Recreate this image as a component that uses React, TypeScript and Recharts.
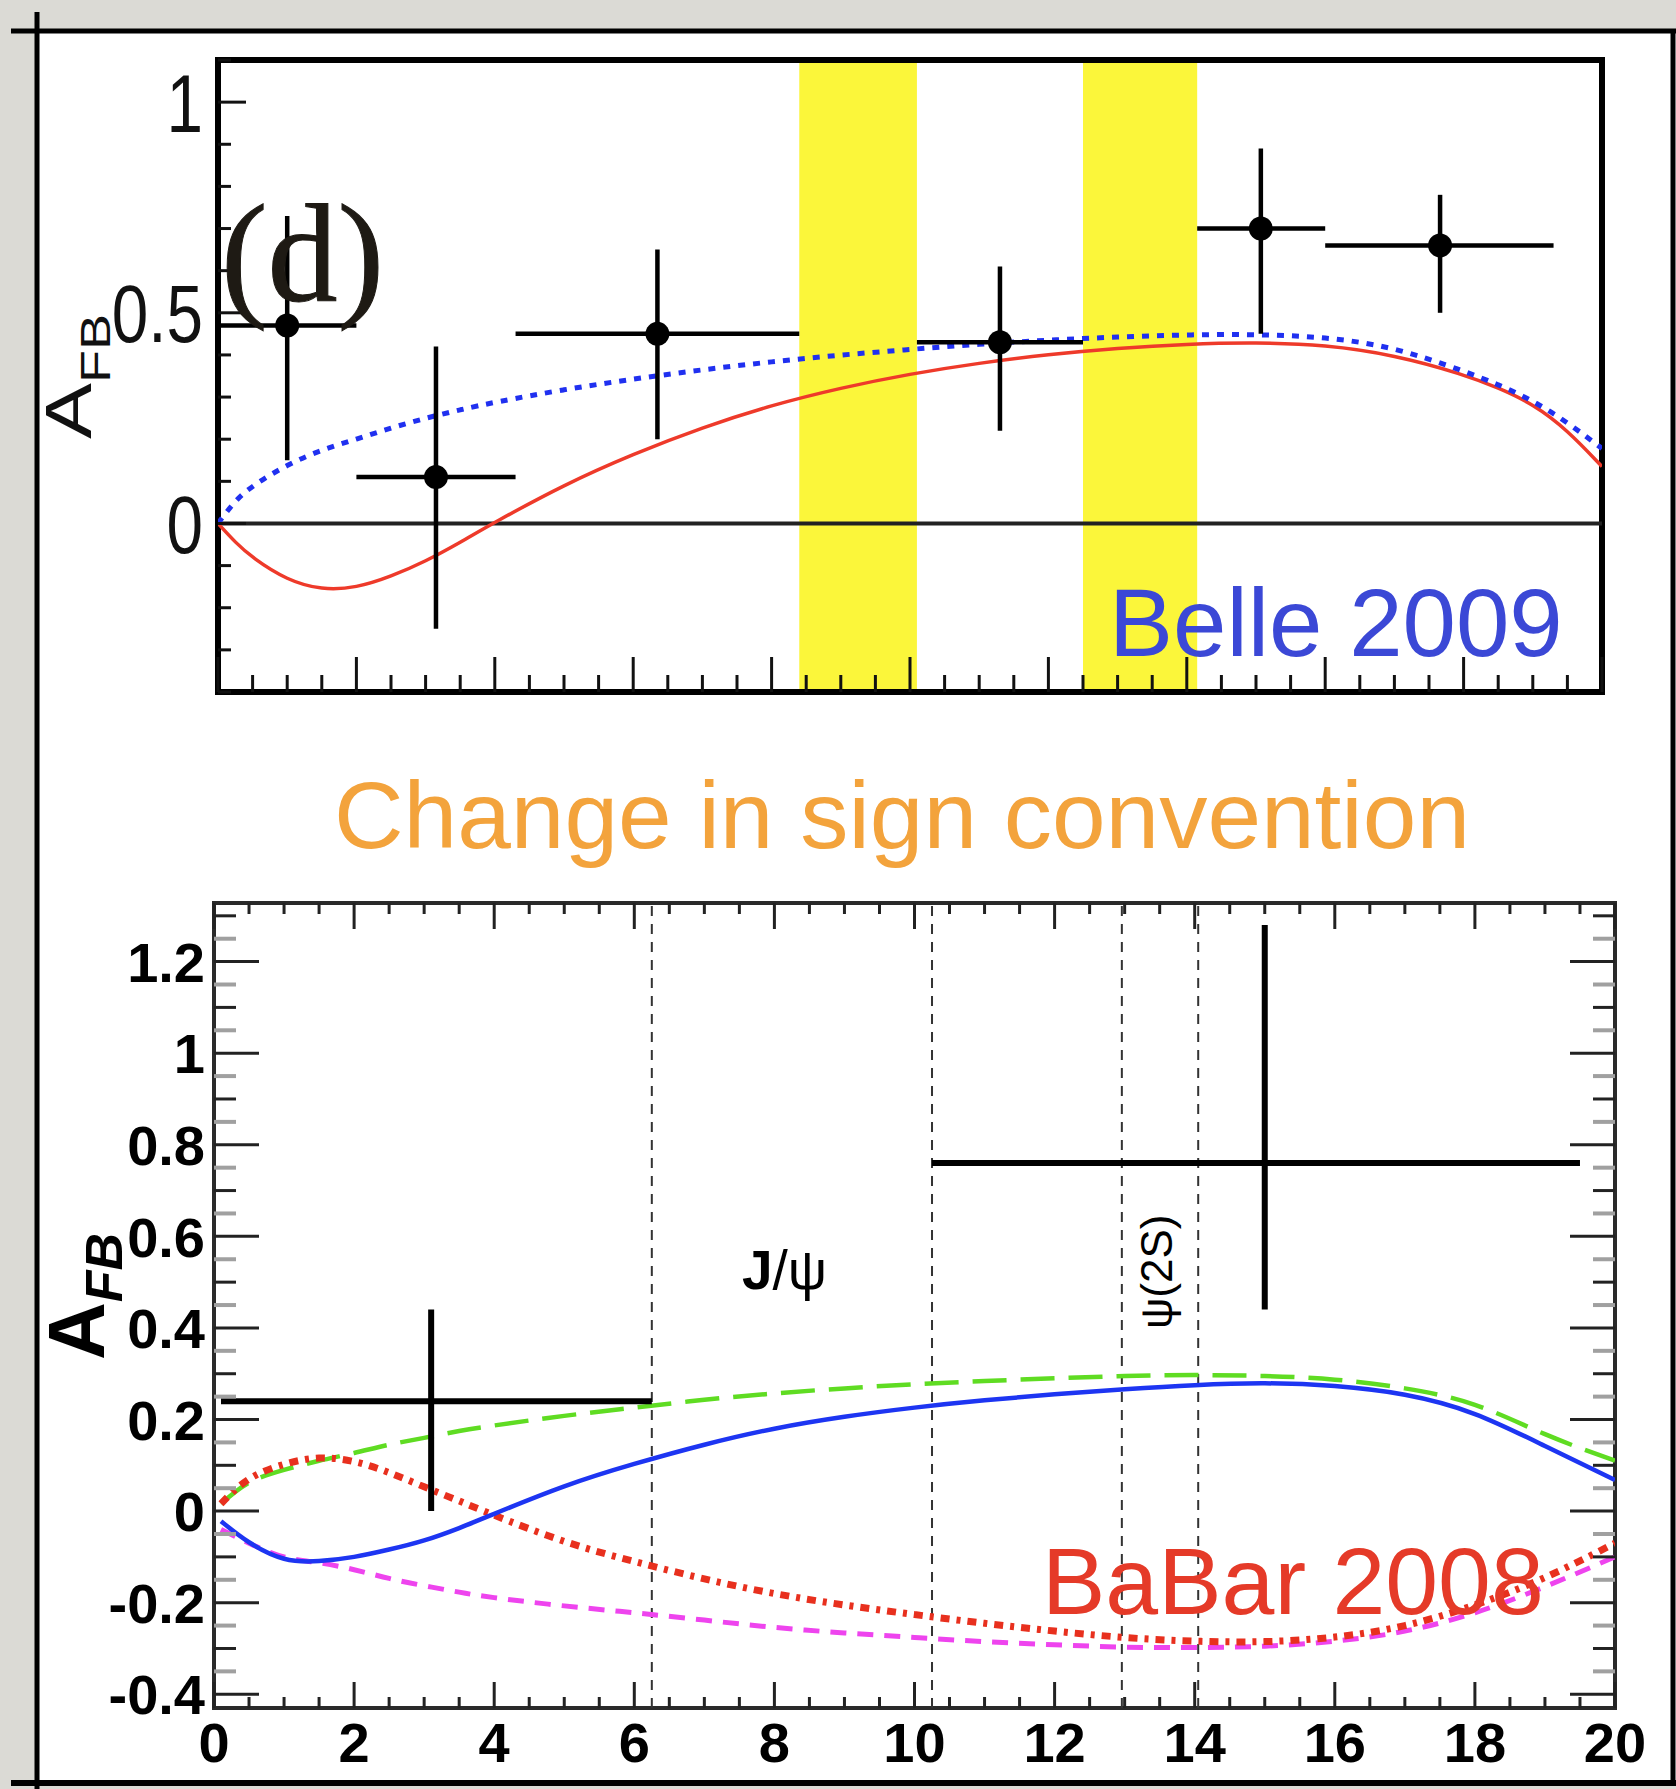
import React from "react";
import {
  ComposedChart,
  Line,
  Scatter,
  ErrorBar,
  XAxis,
  YAxis,
  ReferenceArea,
  ReferenceLine,
} from "recharts";

const W = 1676;
const H = 1789;
const SANS = '"Liberation Sans", Arial, Helvetica, sans-serif';
const SERIF = '"Liberation Serif", "Times New Roman", serif';

// Belle 2009 — binned A_FB vs q² (GeV²/c⁴)
const belleQ2 = [1.0, 3.15, 6.35, 11.3, 15.07, 17.66];
const belleBinLo = [0.0, 2.0, 4.3, 10.1, 14.15, 16.0];
const belleBinHi = [2.0, 4.3, 8.4, 12.5, 16.0, 19.3];
const belleAfb = [0.47, 0.11, 0.45, 0.43, 0.7, 0.66];
const belleErrUp = [0.26, 0.31, 0.2, 0.18, 0.19, 0.12];
const belleErrDown = [0.32, 0.36, 0.25, 0.21, 0.25, 0.16];

// charmonium veto windows
const belleVetoLo = [8.4, 12.5];
const belleVetoHi = [10.1, 14.15];

// theory curves (SM solid, flipped C7 dotted)
const belleCurveQ2 = [0, 0.25, 0.5, 1, 1.5, 2, 2.5, 3, 3.5, 4, 5, 6, 7, 8, 9, 10, 11, 12, 13, 14, 15, 16, 17, 18, 18.5, 19, 19.5, 20];
const belleSm = [0, -0.045, -0.082, -0.135, -0.158, -0.153, -0.126, -0.09, -0.045, 0.003, 0.092, 0.165, 0.228, 0.281, 0.322, 0.355, 0.381, 0.401, 0.416, 0.426, 0.43, 0.424, 0.4, 0.354, 0.322, 0.284, 0.222, 0.135];
const belleFlipC7 = [0, 0.055, 0.09, 0.14, 0.175, 0.2, 0.227, 0.25, 0.27, 0.288, 0.318, 0.343, 0.365, 0.384, 0.4, 0.413, 0.426, 0.435, 0.443, 0.448, 0.449, 0.443, 0.419, 0.362, 0.33, 0.292, 0.24, 0.178];

// BaBar 2008
const babarQ2 = [3.1, 15.0];
const babarBinLo = [0.1, 10.25];
const babarBinHi = [6.25, 19.5];
const babarAfb = [0.24, 0.76];
const babarErrUp = [0.2, 0.52];
const babarErrDown = [0.24, 0.32];
const babarVetoEdges = [6.25, 10.25, 12.96, 14.05];

// SM solid, flipped C7 long-dash, flipped C9C10 dash, all flipped dash-dot
const babarCurveQ2 = [0.1, 0.5, 1, 1.5, 2, 2.5, 3, 3.5, 4, 5, 6, 7, 8, 9, 10, 11, 12, 13, 14, 15, 16, 17, 18, 19, 20];
const babarSm = [-0.022, -0.068, -0.104, -0.109, -0.1, -0.084, -0.064, -0.037, -0.006, 0.054, 0.103, 0.145, 0.18, 0.206, 0.226, 0.242, 0.255, 0.266, 0.275, 0.279, 0.273, 0.254, 0.212, 0.142, 0.068];
const babarFlipC7 = [0.016, 0.062, 0.09, 0.11, 0.127, 0.145, 0.16, 0.175, 0.187, 0.208, 0.226, 0.243, 0.257, 0.268, 0.277, 0.284, 0.29, 0.295, 0.297, 0.295, 0.287, 0.268, 0.232, 0.168, 0.11];
const babarFlipC9C10 = [-0.04, -0.07, -0.1, -0.113, -0.128, -0.147, -0.163, -0.177, -0.189, -0.207, -0.222, -0.238, -0.254, -0.266, -0.276, -0.285, -0.292, -0.297, -0.298, -0.295, -0.284, -0.262, -0.222, -0.165, -0.1];
const babarFlipAll = [0.016, 0.07, 0.102, 0.116, 0.108, 0.084, 0.053, 0.022, -0.009, -0.066, -0.11, -0.148, -0.18, -0.205, -0.226, -0.245, -0.262, -0.276, -0.284, -0.285, -0.275, -0.25, -0.205, -0.145, -0.07];

// plot frames in page pixels
const TOP = { left: 218, right: 1602, top: 60, bottom: 692 };
const BOT = { left: 214, right: 1615, top: 903, bottom: 1708 };

const range = (a: number, b: number, step: number) => {
  const out: number[] = [];
  for (let v = a; v <= b + 1e-9; v += step) out.push(Math.round(v * 1000) / 1000);
  return out;
};
const isMult = (v: number, s: number) => Math.abs(v / s - Math.round(v / s)) < 1e-6;

const belleXTicks = range(0, 20, 0.5);
const belleYTicks = range(-0.4, 1.1, 0.1);
const babarXTicks = range(0, 20, 0.5);
const babarYTicks = range(-0.4, 1.3, 0.05);

const toSeries = (xs: number[], ys: number[]) => xs.map((x, i) => ({ x, y: ys[i] }));

const belleData = belleQ2.map((x, i) => ({
  x,
  y: belleAfb[i],
  ex: [x - belleBinLo[i], belleBinHi[i] - x],
  ey: [belleErrDown[i], belleErrUp[i]],
}));
const babarData = babarQ2.map((x, i) => ({
  x,
  y: babarAfb[i],
  ex: [x - babarBinLo[i], babarBinHi[i] - x],
  ey: [babarErrDown[i], babarErrUp[i]],
}));

function BelleXTick({ x, payload }: any) {
  const major = isMult(payload.value, 2);
  return (
    <line x1={x} x2={x} y1={TOP.bottom} y2={TOP.bottom - (major ? 35 : 17)} stroke="#111" strokeWidth={3} />
  );
}

function BelleYTick({ y, payload }: any) {
  const v = payload.value;
  const major = isMult(v, 0.5);
  return (
    <g>
      <line x1={TOP.left} x2={TOP.left + (major ? 28 : 13)} y1={y} y2={y} stroke="#111" strokeWidth={3} />
      {major && (
        <text
          transform={`translate(203 ${y}) scale(0.8 1)`}
          dy="0.36em"
          textAnchor="end"
          fontSize={82}
          fontFamily={SANS}
          fill="#111"
        >
          {String(v)}
        </text>
      )}
    </g>
  );
}

function BabarXTick({ x, payload }: any) {
  const v = payload.value;
  const major = isMult(v, 2);
  const len = major ? 26 : 11;
  return (
    <g>
      <line x1={x} x2={x} y1={BOT.bottom} y2={BOT.bottom - len} stroke="#222" strokeWidth={3} />
      <line x1={x} x2={x} y1={BOT.top} y2={BOT.top + len} stroke="#222" strokeWidth={3} />
      {major && (
        <text x={x} y={1762} textAnchor="middle" fontSize={56} fontWeight="bold" fontFamily={SANS} fill="#000">
          {String(v)}
        </text>
      )}
    </g>
  );
}

function BabarYTick({ y, payload }: any) {
  const v = payload.value;
  const major = isMult(v, 0.2);
  const dark = major || isMult(v, 0.1);
  const len = major ? 45 : 22;
  const color = dark ? "#222" : "#a0a0a0";
  const sw = dark ? 3 : 4;
  const label = v === 0 ? "0" : Number.isInteger(v) ? String(v) : v.toFixed(1);
  return (
    <g>
      <line x1={BOT.left} x2={BOT.left + len} y1={y} y2={y} stroke={color} strokeWidth={sw} />
      <line x1={BOT.right} x2={BOT.right - len} y1={y} y2={y} stroke={color} strokeWidth={sw} />
      {major && (
        <text x={205} y={y} dy="0.36em" textAnchor="end" fontSize={56} fontWeight="bold" fontFamily={SANS} fill="#000">
          {label}
        </text>
      )}
    </g>
  );
}

const noMarker = () => <g />;
const dotMarker = (p: any) => <circle cx={p.cx} cy={p.cy} r={12} fill="#000" />;

function BellePanel() {
  return (
    <ComposedChart width={W} height={760} margin={{ top: TOP.top, right: W - TOP.right, bottom: 760 - TOP.bottom - 30, left: TOP.left - 60 }}>
      <XAxis
        type="number"
        dataKey="x"
        domain={[0, 20]}
        ticks={belleXTicks}
        interval={0}
        allowDataOverflow
        axisLine={false}
        tickLine={false}
        tick={BelleXTick}
        height={30}
      />
      <YAxis
        type="number"
        domain={[-0.4, 1.1]}
        ticks={belleYTicks}
        interval={0}
        allowDataOverflow
        axisLine={false}
        tickLine={false}
        tick={BelleYTick}
        width={60}
      />
      {belleVetoLo.map((lo, i) => (
        <ReferenceArea key={i} x1={lo} x2={belleVetoHi[i]} y1={-0.4} y2={1.1} fill="#fbf63a" fillOpacity={1} stroke="none" />
      ))}
      <ReferenceLine y={0} stroke="#222" strokeWidth={4} />
      <Line
        data={toSeries(belleCurveQ2, belleSm)}
        dataKey="y"
        type="basis"
        stroke="#ee3a2a"
        strokeWidth={3.5}
        dot={false}
        isAnimationActive={false}
      />
      <Line
        data={toSeries(belleCurveQ2, belleFlipC7)}
        dataKey="y"
        type="basis"
        stroke="#2030f0"
        strokeWidth={5}
        strokeDasharray="7 8"
        dot={false}
        isAnimationActive={false}
      />
      <Scatter data={belleData} dataKey="y" shape={dotMarker} isAnimationActive={false}>
        <ErrorBar dataKey="ex" direction="x" width={0} stroke="#000" strokeWidth={4.5} isAnimationActive={false} />
        <ErrorBar dataKey="ey" direction="y" width={0} stroke="#000" strokeWidth={4.5} isAnimationActive={false} />
      </Scatter>
      <ReferenceArea x1={0} x2={20} y1={-0.4} y2={1.1} fill="none" stroke="#000" strokeWidth={6} />
    </ComposedChart>
  );
}

function BabarPanel() {
  return (
    <ComposedChart width={W} height={H} margin={{ top: BOT.top, right: W - BOT.right, bottom: H - BOT.bottom - 30, left: BOT.left - 60 }}>
      <XAxis
        type="number"
        dataKey="x"
        domain={[0, 20]}
        ticks={babarXTicks}
        interval={0}
        allowDataOverflow
        axisLine={false}
        tickLine={false}
        tick={BabarXTick}
        height={30}
      />
      <YAxis
        type="number"
        domain={[-0.43, 1.328]}
        ticks={babarYTicks}
        interval={0}
        allowDataOverflow
        axisLine={false}
        tickLine={false}
        tick={BabarYTick}
        width={60}
      />
      {babarVetoEdges.map((q) => (
        <ReferenceLine key={q} x={q} stroke="#333" strokeWidth={2} strokeDasharray="10 8" />
      ))}
      <Line
        data={toSeries(babarCurveQ2, babarFlipC7)}
        dataKey="y"
        type="natural"
        stroke="#5fdc22"
        strokeWidth={4.5}
        strokeDasharray="34 14"
        dot={false}
        isAnimationActive={false}
      />
      <Line
        data={toSeries(babarCurveQ2, babarFlipC9C10)}
        dataKey="y"
        type="natural"
        stroke="#ee44ee"
        strokeWidth={5}
        strokeDasharray="16 11"
        dot={false}
        isAnimationActive={false}
      />
      <Line
        data={toSeries(babarCurveQ2, babarFlipAll)}
        dataKey="y"
        type="natural"
        stroke="#e8301e"
        strokeWidth={7}
        strokeDasharray="9 7 4 7"
        dot={false}
        isAnimationActive={false}
      />
      <Line
        data={toSeries(babarCurveQ2, babarSm)}
        dataKey="y"
        type="natural"
        stroke="#1d35f2"
        strokeWidth={4.5}
        dot={false}
        isAnimationActive={false}
      />
      <Scatter data={babarData} dataKey="y" shape={noMarker} isAnimationActive={false}>
        <ErrorBar dataKey="ex" direction="x" width={0} stroke="#000" strokeWidth={6} isAnimationActive={false} />
        <ErrorBar dataKey="ey" direction="y" width={0} stroke="#000" strokeWidth={6} isAnimationActive={false} />
      </Scatter>
      <ReferenceArea x1={0} x2={20} y1={-0.43} y2={1.328} fill="none" stroke="#2a2a2a" strokeWidth={4} />
    </ComposedChart>
  );
}

export default function App() {
  const layer: React.CSSProperties = { position: "absolute", left: 0, top: 0 };
  return (
    <div style={{ position: "absolute", left: 0, top: 0, width: W, height: H, background: "#dbdad5", overflow: "hidden" }}>
      <svg width={W} height={H} style={layer}>
        <rect x={37} y={31} width={1639} height={1752} fill="#fff" />
        <line x1={11} x2={W} y1={31} y2={31} stroke="#000" strokeWidth={5} />
        <line x1={37} x2={37} y1={12} y2={H} stroke="#000" strokeWidth={5} />
        <line x1={11} x2={W} y1={1783} y2={1783} stroke="#000" strokeWidth={6} />
        <line x1={1673} x2={1673} y1={31} y2={1783} stroke="#000" strokeWidth={5} />
      </svg>
      <div style={layer}>
        <BellePanel />
      </div>
      <div style={layer}>
        <BabarPanel />
      </div>
      <svg width={W} height={H} style={{ ...layer, pointerEvents: "none" }}>
        <text x={221} y={301} fontSize={140} fontFamily={SERIF} fill="#1e1a14" stroke="#1e1a14" strokeWidth={1}>
          (d)
        </text>
        <text transform="translate(91 439) rotate(-90) scale(1 0.78)" fontSize={84} fontFamily={SANS} fill="#111">
          A
          <tspan fontSize={54} dy={24}>
            FB
          </tspan>
        </text>
        <text x={1109} y={656} fontSize={96} fontFamily={SANS} fill="#3b48d6">
          Belle 2009
        </text>
        <text x={334} y={848} fontSize={94} fontFamily={SANS} fill="#f3a33c" textLength={1136} lengthAdjust="spacingAndGlyphs">
          Change in sign convention
        </text>
        <text transform="translate(104 1360) rotate(-90)" fontSize={80} fontWeight="bold" fontFamily={SANS} fill="#000">
          A
          <tspan fontSize={52} fontStyle="italic" dy={18}>
            FB
          </tspan>
        </text>
        <text x={742} y={1289} fontSize={55} fontFamily={SANS} fill="#000">
          <tspan fontWeight="bold">J</tspan>/ψ
        </text>
        <text transform="translate(1172 1329) rotate(-90)" fontSize={44} fontFamily={SANS} fill="#000">
          ψ(2S)
        </text>
        <text x={1042} y={1614} fontSize={95} fontFamily={SANS} fill="#e53a28">
          BaBar 2008
        </text>
      </svg>
    </div>
  );
}
